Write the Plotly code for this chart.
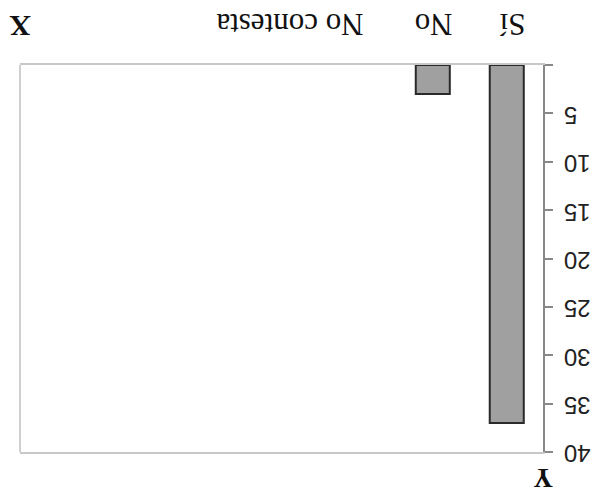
import plotly.graph_objects as go

# Data
categories = ["Sí", "No", "No contesta"]
values = [37, 3, 0]
y_ticks = [0, 5, 10, 15, 20, 25, 30, 35, 40]
y_tick_labels = ["", "5", "10", "15", "20", "25", "30", "35", "40"]
label_shifts = [6, 1, -69]

FS = "\u2007"  # figure space, keeps upside-down tick labels left-aligned
tick_text = [t if len(t) != 1 else FS + t for t in y_tick_labels]

fig = go.Figure()
fig.add_trace(go.Bar(
    x=categories, y=values, width=0.46,
    marker=dict(color="#a0a0a0",
                line=dict(color="#2a2a2a", width=[2 if v > 0 else 0 for v in values])),
    showlegend=False,
))

for cat, dx in zip(categories, label_shifts):
    fig.add_annotation(
        x=cat, xref="x", y=1, yref="paper", yanchor="middle", xanchor="center",
        yshift=40, xshift=dx, text=cat, textangle=180, showarrow=False,
        font=dict(family="Liberation Serif", size=31, color="#111111"),
    )

fig.add_annotation(x=0, xref="paper", y=1, yref="paper", text="<b>X</b>", showarrow=False,
                   textangle=180, xanchor="center", yanchor="middle", yshift=38,
                   font=dict(family="Liberation Serif", size=30, color="#111111"))
fig.add_annotation(x=1, xref="paper", y=0, yref="paper", text="<b>Y</b>", showarrow=False,
                   textangle=180, xanchor="center", yanchor="middle", xshift=0, yshift=-26,
                   height=24, font=dict(family="Liberation Serif", size=27, color="#111111"))

# left border of plot area
fig.add_shape(type="line", xref="paper", yref="paper", x0=0, x1=0, y0=0, y1=1,
              line=dict(color="#cfcfcf", width=2))

# page body adds an 8px offset; figure is sized to fit the 602x494 window
fig.update_layout(
    width=594, height=486,
    margin=dict(l=12, r=59, t=57, b=42, autoexpand=False),
    paper_bgcolor="white", plot_bgcolor="white",
    xaxis=dict(
        type="category", side="top", range=[6.58, -0.49], automargin=False,
        showticklabels=False, ticks="", showgrid=False, zeroline=False,
        showline=True, linecolor="#c8c8c8", linewidth=2, mirror=True,
    ),
    yaxis=dict(
        side="right", range=[40, 0], tickvals=y_ticks, ticktext=tick_text,
        automargin=False,
        ticks="outside", ticklen=8, tickcolor="#888888", tickwidth=1.5,
        tickangle=180, ticklabelstandoff=33, ticklabelshift=-9,
        showgrid=False, zeroline=False,
        showline=True, linecolor="#888888", linewidth=1.5,
        tickfont=dict(family="Liberation Sans", size=24, color="#222222"),
    ),
)

fig.write_html("out.html")
